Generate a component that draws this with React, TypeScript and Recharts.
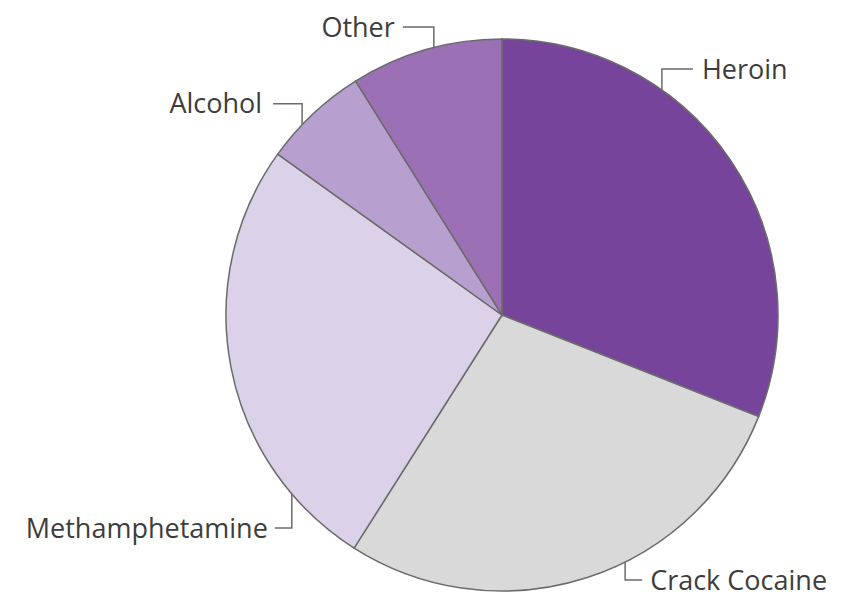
import React from "react";
import { PieChart, Pie, Cell } from "recharts";

const categories = ["Heroin", "Crack Cocaine", "Methamphetamine", "Alcohol", "Other"];
const shares = [31, 28, 25.9, 6.2, 8.9];
const colors = ["#76459B", "#D9D9D9", "#DBD1E8", "#B7A0CF", "#9B70B4"];

const data = categories.map((name, i) => ({ name, value: shares[i] }));

// label leader layout: anchor angle on rim, vertical run (+ up / - down), horizontal run
const labelLayout: Record<string, { angle: number; rise: number; run: number; gap: number }> = {
  Heroin: { angle: 54.6, rise: 21, run: 31, gap: 9 },
  "Crack Cocaine": { angle: -63.5, rise: -18, run: 17, gap: 8 },
  Methamphetamine: { angle: 220.4, rise: -34, run: -17, gap: 7 },
  Alcohol: { angle: 136.4, rise: 21, run: -29, gap: 11 },
  Other: { angle: 104.3, rise: 20.5, run: -31, gap: 8 },
};

const RAD = Math.PI / 180;
const FONT = 27;

const renderLabel = (props: any) => {
  const { cx, cy, outerRadius, name } = props;
  const L = labelLayout[name];
  if (!L) return null;
  const ax = cx + outerRadius * Math.cos(L.angle * RAD);
  const ay = cy - outerRadius * Math.sin(L.angle * RAD);
  const by = ay - L.rise;
  const bx = ax + L.run;
  const right = L.run > 0;
  const tx = bx + (right ? L.gap : -L.gap);
  return (
    <g>
      <polyline
        points={`${ax},${ay} ${ax},${by} ${bx},${by}`}
        fill="none"
        stroke="#6b6b6b"
        strokeWidth={1.5}
      />
      <text
        x={tx}
        y={by + FONT * 0.36}
        textAnchor={right ? "start" : "end"}
        fill="#3d3d3d"
        fontSize={FONT}
        fontFamily="'Open Sans', sans-serif"
      >
        {name}
      </text>
    </g>
  );
};

export default function App() {
  return (
    <div style={{ position: "absolute", left: 0, top: 0, background: "#ffffff" }}>
      <PieChart width={842} height={598}>
        <Pie
          data={data}
          dataKey="value"
          nameKey="name"
          cx={497}
          cy={310}
          outerRadius={276}
          startAngle={90}
          endAngle={-270}
          stroke="#6b6b6b"
          strokeWidth={1.5}
          label={renderLabel}
          labelLine={false}
          isAnimationActive={false}
        >
          {data.map((d, i) => (
            <Cell key={d.name} fill={colors[i]} />
          ))}
        </Pie>
      </PieChart>
    </div>
  );
}
